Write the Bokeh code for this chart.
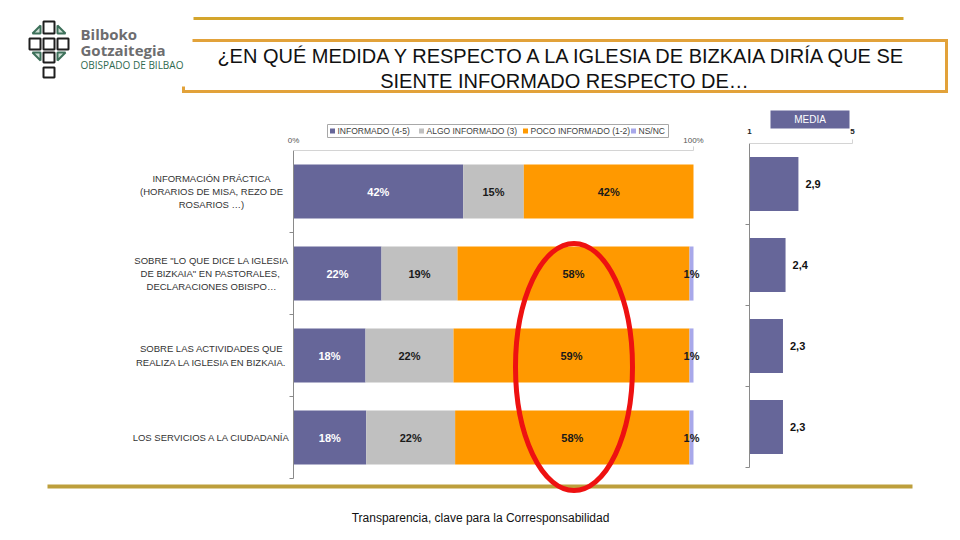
from bokeh.plotting import figure
from bokeh.models import Range1d, ColumnDataSource
from bokeh.embed import file_html
from bokeh.resources import INLINE
from bokeh.core.properties import value

# ---------------- data ----------------
categories = [
    "INFORMACIÓN PRÁCTICA\n(HORARIOS DE MISA, REZO DE\nROSARIOS …)",
    'SOBRE "LO QUE DICE LA IGLESIA\nDE BIZKAIA" EN  PASTORALES,\nDECLARACIONES OBISPO…',
    "SOBRE LAS ACTIVIDADES QUE\nREALIZA LA IGLESIA EN BIZKAIA.",
    "LOS SERVICIOS A LA CIUDADANÍA",
]
series_names = ["INFORMADO (4-5)", "ALGO INFORMADO (3)", "POCO INFORMADO (1-2)", "NS/NC"]
informado = [42, 22, 18, 18]
algo_informado = [15, 19, 22, 22]
poco_informado = [42, 58, 59, 58]
ns_nc = [0, 1, 1, 1]
media = [2.9, 2.4, 2.3, 2.3]
pct_tick_labels = ["0%", "100%"]
pct_ticks = [0, 100]
media_ticks = [1, 5]

title_lines = ["¿EN QUÉ MEDIDA Y RESPECTO A LA IGLESIA DE BIZKAIA DIRÍA QUE SE",
               "SIENTE INFORMADO RESPECTO DE…"]
footer = "Transparencia, clave para la Corresponsabilidad"

# ---------------- styles ----------------
COLORS = ["#666699", "#c0c0c0", "#ff9900", "#a8a8ea"]
FONT = value("Liberation Sans")
W, H = 956, 536
OFF = 0  # the canvas sits at the page origin


def cx(xp):  # page x -> canvas x
    return xp - OFF


def cy(yp):  # page y -> canvas y
    return yp - OFF


# mapping of the data ranges onto the canvas
PCT0, PCT_S = cx(293), 4.0          # 0% position, px per %
ROW0, ROW_S = cy(150), 82.0          # top of category band, px per row
MED0, MED_S = cx(749), 25.75         # value 1 position, px per unit
MROW0, MROW_S = cy(143), 81.0

p = figure(width=W, height=H, output_backend="svg", toolbar_location=None,
           x_range=Range1d(0, W), y_range=Range1d(H, 0),
           x_axis_location=None, y_axis_location=None,
           min_border=0, min_border_left=0, min_border_right=0,
           min_border_top=0, min_border_bottom=0,
           background_fill_color="white", border_fill_color="white")
p.outline_line_color = None
p.grid.visible = False

p.extra_x_ranges = {
    "pct": Range1d(-PCT0 / PCT_S, (W - PCT0) / PCT_S),
    "med": Range1d(1 - MED0 / MED_S, 1 + (W - MED0) / MED_S),
}
p.extra_y_ranges = {
    "rows": Range1d((H - ROW0) / ROW_S, -ROW0 / ROW_S),
    "mrows": Range1d((H - MROW0) / MROW_S, -MROW0 / MROW_S),
}

# ---------------- decorations: logo ----------------
sq = dict(left=[43, 29, 43, 57, 43, 43], right=[54, 40, 54, 68, 54, 54],
          top=[21, 38, 38, 38, 52, 67], bottom=[33, 49, 49, 49, 62, 77])
p.quad(left=[cx(v) for v in sq["left"]], right=[cx(v) for v in sq["right"]],
       top=[cy(v) for v in sq["top"]], bottom=[cy(v) for v in sq["bottom"]],
       fill_color="white", line_color="#1e1e1e", line_width=2)
tris_x = [[32, 40, 40], [57, 65, 57], [32, 40, 40], [57, 65, 57]]
tris_y = [[33, 33, 25], [33, 33, 25], [52, 52, 60], [52, 52, 60]]
p.patches(xs=[[cx(v) for v in t] for t in tris_x], ys=[[cy(v) for v in t] for t in tris_y],
          fill_color="#cfe0d6", line_color="#3d705a", line_width=2)
p.text(x=[cx(80), cx(80)], y=[cy(33), cy(49)], text=["Bilboko", "Gotzaitegia"],
       text_font=value("Open Sans"), text_font_style="bold", text_font_size="15px",
       text_color="#6d6d6f", text_baseline="middle", text_align="left")
p.text(x=[cx(80)], y=[cy(64)], text=["OBISPADO DE BILBAO"],
       text_font=value("Open Sans"), text_font_size="10px",
       text_color="#2f6a4f", text_baseline="middle", text_align="left")

# ---------------- decorations: title ----------------
p.line(x=[cx(193), cx(903)], y=[cy(18), cy(18)], line_color="#d4a52c", line_width=3)
p.line(x=[cx(192), cx(946), cx(946), cx(183), cx(183)],
       y=[cy(40), cy(40), cy(91), cy(91), cy(86)],
       line_color="#e2a23a", line_width=3, line_join="miter")
p.text(x=[cx(564), cx(564)], y=[cy(55), cy(80)], text=title_lines,
       text_font=FONT, text_font_size="20px", text_color="#111111",
       text_align="center", text_baseline="middle")

# bottom rule and footer
p.line(x=[cx(47), cx(912)], y=[cy(486), cy(486)], line_color="#bd9f3c", line_width=4)
p.text(x=[cx(480)], y=[cy(517)], text=[footer], text_font=FONT, text_font_size="12px",
       text_color="#111111", text_align="center", text_baseline="middle")

# ---------------- stacked 100% bars ----------------
rows_v = [i + 0.5 for i in range(len(categories))]
series = [informado, algo_informado, poco_informado, ns_nc]
keys = ["s0", "s1", "s2", "s3"]
totals = [sum(s[i] for s in series) for i in range(len(categories))]
data = {"y": rows_v}
for k, s in zip(keys, series):
    data[k] = [100.0 * s[i] / totals[i] for i in range(len(categories))]
src = ColumnDataSource(data)
p.hbar_stack(keys, y="y", height=0.66, color=COLORS, source=src,
             x_range_name="pct", y_range_name="rows", line_color=None)

# value labels in segments
lx, ly, lt, lc = [], [], [], []
for i in range(len(categories)):
    cum = 0.0
    for j, k in enumerate(keys):
        w = data[k][i]
        if series[j][i] > 0:
            lx.append(cum + w / 2)
            ly.append(rows_v[i])
            lt.append(f"{series[j][i]}%")
            lc.append("white" if j == 0 else "#1a1a1a")
        cum += w
p.text(x=lx, y=ly, text=lt, text_color=lc, text_font=FONT, text_font_style="bold",
       text_font_size="11px", text_align="center", text_baseline="middle",
       x_range_name="pct", y_range_name="rows")

# category labels
p.text(x=[cx(211)] * len(categories), y=rows_v, text=categories, text_font=FONT,
       text_font_size="9.5px", text_color="#333333", text_align="center",
       text_baseline="middle", text_line_height=1.2, y_range_name="rows")

# main axes
n = len(categories)
p.segment(x0=[0], y0=[0], x1=[0], y1=[n], line_color="#8a8a8a", line_width=1,
          x_range_name="pct", y_range_name="rows")
p.segment(x0=[-1] * n, y0=list(range(1, n + 1)), x1=[0] * n, y1=list(range(1, n + 1)),
          line_color="#8a8a8a", line_width=1, x_range_name="pct", y_range_name="rows")
p.segment(x0=[pct_ticks[0]], y0=[0], x1=[pct_ticks[-1]], y1=[0], line_color="#d4d4d4",
          line_width=1, x_range_name="pct", y_range_name="rows")
p.segment(x0=[pct_ticks[-1]], y0=[-0.05], x1=[pct_ticks[-1]], y1=[0], line_color="#d4d4d4",
          line_width=1, x_range_name="pct", y_range_name="rows")
p.text(x=pct_ticks, y=[cy(140)] * 2, text=pct_tick_labels, text_font=FONT,
       text_font_size="8px", text_color="#555555", text_align="center",
       text_baseline="middle", x_range_name="pct")

# legend
p.quad(left=[cx(327)], right=[cx(668)], top=[cy(124)], bottom=[cy(137)],
       fill_color="white", line_color="#a8a8a8", line_width=1)
leg_sq_x = [cx(332), cx(421), cx(525), cx(633)]
p.scatter(x=leg_sq_x, y=[cy(130.5)] * 4, marker="square", size=5, fill_color=COLORS,
          line_color=None)
p.text(x=[v + 5 for v in leg_sq_x], y=[cy(130.5)] * 4, text=series_names, text_font=FONT,
       text_font_size="8.5px", text_color="#404040", text_align="left",
       text_baseline="middle")

# ---------------- media bars ----------------
mrows_v = [i + 0.5 for i in range(len(media))]
msrc = ColumnDataSource(dict(y=mrows_v, right=media, left=[media_ticks[0]] * len(media),
                             lab=[f"{m:.1f}".replace(".", ",") for m in media]))
p.hbar(y="y", left="left", right="right", height=0.667, source=msrc, fill_color="#666699",
       line_color=None, x_range_name="med", y_range_name="mrows")
p.text(x="right", y="y", text="lab", source=msrc, x_offset=7, text_font=FONT,
       text_font_style="bold", text_font_size="11px", text_color="#111111",
       text_align="left", text_baseline="middle", x_range_name="med", y_range_name="mrows")

m = len(media)
p.segment(x0=[1], y0=[0], x1=[1], y1=[m], line_color="#8a8a8a", line_width=1,
          x_range_name="med", y_range_name="mrows")
p.segment(x0=[1 - 4 / MED_S] * m, y0=list(range(1, m + 1)), x1=[1] * m,
          y1=list(range(1, m + 1)), line_color="#8a8a8a", line_width=1,
          x_range_name="med", y_range_name="mrows")
p.segment(x0=[media_ticks[0]], y0=[0], x1=[media_ticks[-1]], y1=[0], line_color="#d4d4d4",
          line_width=1, x_range_name="med", y_range_name="mrows")
p.segment(x0=[media_ticks[-1]], y0=[-0.05], x1=[media_ticks[-1]], y1=[0],
          line_color="#d4d4d4", line_width=1, x_range_name="med", y_range_name="mrows")
p.text(x=media_ticks, y=[cy(131)] * 2, text=[str(t) for t in media_ticks], text_font=FONT,
       text_font_style="bold", text_font_size="8px", text_color="#222222",
       text_align="center", text_baseline="middle", x_range_name="med")

# MEDIA header
p.quad(left=[cx(770)], right=[cx(849)], top=[cy(110)], bottom=[cy(128)],
       fill_color="#666699", line_color=None)
p.text(x=[cx(809.5)], y=[cy(119)], text=["MEDIA"], text_font=FONT, text_font_size="10px",
       text_color="white", text_align="center", text_baseline="middle")

# red highlight ellipse
p.ellipse(x=[cx(573.5)], y=[cy(366.5)], width=117, height=247, fill_color=None,
          line_color="#ee1111", line_width=5)

open("out.html", "w").write(file_html(p, INLINE))
